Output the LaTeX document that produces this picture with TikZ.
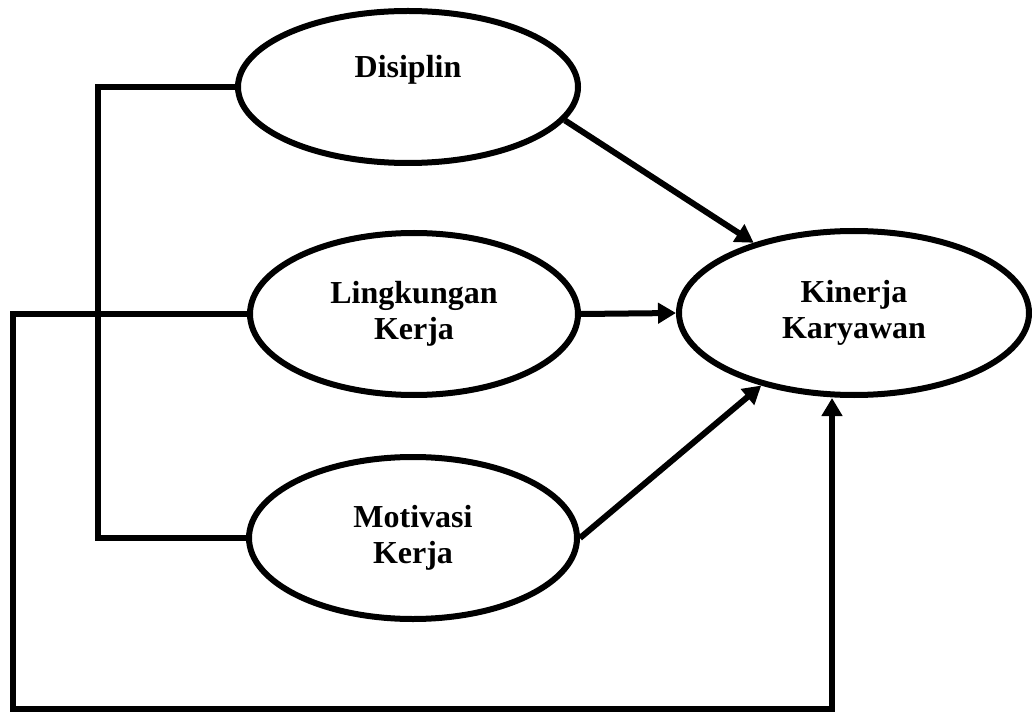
\documentclass[tikz,border=0pt]{standalone}
\usepackage{fontspec}
\setmainfont{Liberation Serif}
\usetikzlibrary{
	arrows.meta,
	calc,
	positioning,
	shapes,
}
\tikzset{var node/.style={
	draw,
	ellipse,
	inner sep=0mm,
	line width=3pt,
	align=center,
	font=\bfseries\fontsize{16}{18}\selectfont,
}}

\begin{document}
\begin{tikzpicture}[
x=0.5pt, y=0.5pt,
line width=3pt,
tip/.style={-{Triangle[length=9pt,width=10pt]}},
]
% \draw [help lines, step=50] (0,0) grid (1032,713);
\useasboundingbox (0,0) rectangle (1032,713);

\node(dis)[var node, minimum width=170pt, minimum height=76pt] 	at(408,626)	{};
\node(disT)[font=\bfseries\fontsize{16}{18}\selectfont] 		at(408,643)	{Disiplin};
\node(lin)[var node, minimum width=164pt, minimum height=81pt] 	at(414,399)	{Lingkungan\\Kerja};
\node(mot)[var node, minimum width=164pt, minimum height=81pt] 	at(413,175)	{Motivasi\\Kerja};
\node(kin)[var node, minimum width=175pt, minimum height=82pt] 	at(854,400)	{Kinerja\\Karyawan};

\coordinate(l1) at(98,400);
\coordinate(l2) at(13,4);
\coordinate(l3) at(832,4);

\begin{scope}
\draw (dis.west) -| (l1) |- (mot.west);
\draw[tip] (lin.west) -| (l2) -- (l3) -- (l3 |- kin.south);
\end{scope}

\begin{scope}[tip]
\draw (dis.-12) to (kin.145);
\draw (lin.east) to (kin.west);
\draw (mot.east) to (kin.-142);
\end{scope}

\end{tikzpicture}
\end{document}
